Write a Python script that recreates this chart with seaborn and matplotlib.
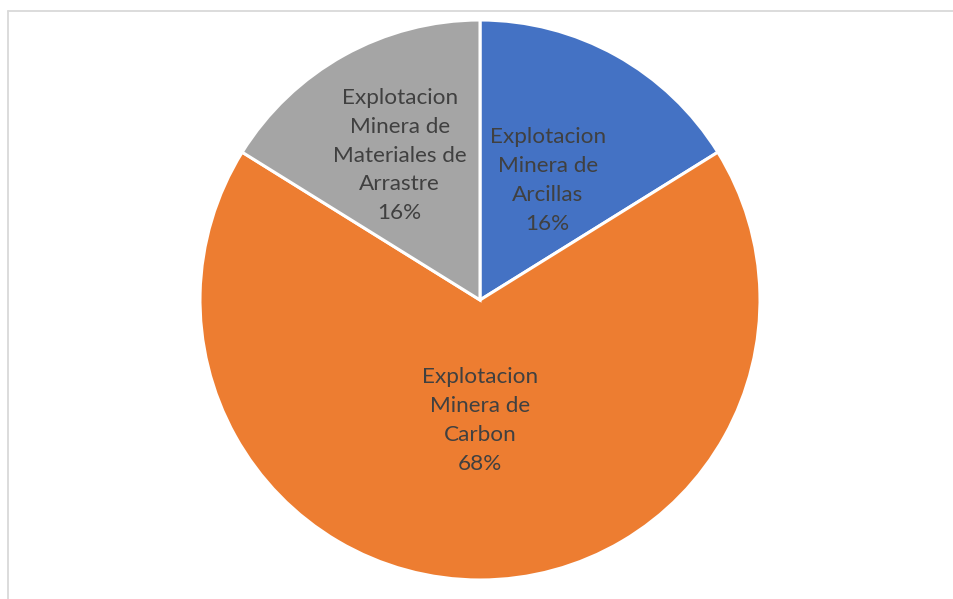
import matplotlib
matplotlib.use("Agg")
import matplotlib.pyplot as plt
from matplotlib.lines import Line2D
import numpy as np
import seaborn as sns

# Mining activity shares
categories = [
    "Explotacion\nMinera de\nArcillas",
    "Explotacion\nMinera de\nCarbon",
    "Explotacion\nMinera de\nMateriales de\nArrastre",
]
shares = [16.15, 67.7, 16.15]
colors = ["#4472C4", "#ED7D31", "#A5A5A5"]

sns.set_theme(style="white")
plt.rcParams["font.family"] = ["Lato", "DejaVu Sans"]

W, H = 954, 599
fig = plt.figure(figsize=(W / 100, H / 100), dpi=100)
fig.patch.set_facecolor("white")

# Pie axes: centre (480, 300) px, radius 280 px
cx, cy, r = 480, 300, 280
ax = fig.add_axes([(cx - r) / W, (H - cy - r) / H, 2 * r / W, 2 * r / H])
wedges, _ = ax.pie(
    shares,
    colors=colors,
    startangle=90,
    counterclock=False,
    wedgeprops=dict(edgecolor="white", linewidth=2.2),
)
ax.set_xlim(-1, 1)
ax.set_ylim(-1, 1)
ax.set_aspect("equal")
ax.axis("off")

# label placement along each wedge's bisector (radial fraction, angular nudge)
placement = [(0.49, -0.5), (0.43, 0.0), (0.59, 0.0)]
total = sum(shares)
for w, cat, val, (frac, nudge) in zip(wedges, categories, shares, placement):
    mid = np.deg2rad((w.theta1 + w.theta2) / 2 + nudge)
    x, y = frac * np.cos(mid), frac * np.sin(mid)
    ax.text(x, y, f"{cat}\n{val / total * 100:.0f}%", ha="center", va="center",
            fontsize=16.2, color="#404040", linespacing=1.55)

# light chart-area border (top and left edges)
border = "#D9D9D9"
fig.add_artist(Line2D([8.5 / W, 1.0], [(H - 11) / H] * 2, transform=fig.transFigure,
                      color=border, linewidth=1.3))
fig.add_artist(Line2D([8.5 / W] * 2, [0.0, (H - 11) / H], transform=fig.transFigure,
                      color=border, linewidth=1.3))

fig.savefig("out.png", dpi=100, facecolor="white")
